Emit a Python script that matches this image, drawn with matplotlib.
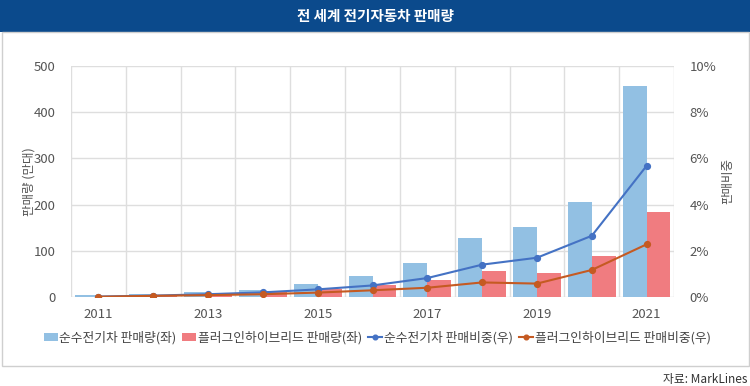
import numpy as np
import matplotlib
matplotlib.use("Agg")
import matplotlib.pyplot as plt
from matplotlib.patches import Rectangle

plt.rcParams['font.family'] = ['Noto Sans CJK KR', 'DejaVu Sans']

# data
years = [2011, 2012, 2013, 2014, 2015, 2016, 2017, 2018, 2019, 2020, 2021]
bev_sales = [4, 6, 11, 16, 29, 45, 74, 128, 151, 205, 457]
phev_sales = [1, 5, 7, 12, 17, 26, 37, 57, 51, 89, 183]
bev_share = [0.02, 0.06, 0.12, 0.2, 0.33, 0.5, 0.82, 1.4, 1.7, 2.65, 5.68]
phev_share = [0.01, 0.05, 0.08, 0.12, 0.19, 0.29, 0.4, 0.63, 0.58, 1.17, 2.28]
tick_years = ["2011", "2013", "2015", "2017", "2019", "2021"]

fig = plt.figure(figsize=(7.5, 3.86), dpi=100)

# header bar and panel border
fig.patches.append(Rectangle((0, 0.917), 1, 0.083, transform=fig.transFigure,
                             facecolor="#0b4a8c", edgecolor="none"))
fig.patches.append(Rectangle((0.002, 0.052), 0.996, 0.865, transform=fig.transFigure,
                             facecolor="none", edgecolor="#cfcfcf", lw=1))
fig.text(0.5, 0.958, "전 세계 전기자동차 판매량", color="white", fontsize=10.5,
         fontweight="bold", ha="center", va="center")
fig.text(0.997, 0.018, "자료: MarkLines", color="#333333", fontsize=8.5,
         ha="right", va="center")

ax = fig.add_axes([0.0947, 0.2306, 0.804, 0.5984])
x = np.arange(len(years))
w = 0.435
ax.bar(x - w / 2, bev_sales, w, color="#92c0e3", label="순수전기차 판매량(좌)", zorder=2)
ax.bar(x + w / 2, phev_sales, w, color="#f07c80", label="플러그인하이브리드 판매량(좌)", zorder=2)
ax.set_ylim(0, 500)
ax.set_xlim(-0.5, len(years) - 0.5)
ax.set_yticks(range(0, 501, 100))
ax.set_xticks(x[::2])
ax.set_xticklabels(tick_years)
ax.set_xticks(np.arange(-0.5, len(years), 1), minor=True)
ax.grid(axis="y", color="#dedede", lw=1, zorder=0)
ax.grid(axis="x", which="minor", color="#dedede", lw=1, zorder=0)
ax.grid(axis="x", which="major", visible=False)
for s in ax.spines.values():
    s.set_visible(False)
ax.tick_params(which="both", length=0, colors="#555555", labelsize=9.5)
ax.tick_params(axis="y", pad=11)
ax.tick_params(axis="x", pad=8)
ax.set_ylabel("판매량 (만대)", color="#555555", fontsize=9, labelpad=-1)

ax2 = ax.twinx()
ax2.plot(x, bev_share, color="#4472c4", marker="o", ms=4.2, lw=1.5,
         label="순수전기차 판매비중(우)", zorder=3)
ax2.plot(x, phev_share, color="#c55a22", marker="o", ms=4.2, lw=1.5,
         label="플러그인하이브리드 판매비중(우)", zorder=3)
ax2.set_ylim(0, 10)
ax2.set_yticks(range(0, 11, 2))
ax2.set_yticklabels([f"{v}%" for v in range(0, 11, 2)])
for s in ax2.spines.values():
    s.set_visible(False)
ax2.tick_params(length=0, colors="#555555", labelsize=9.5, pad=11)
ax2.set_ylabel("판매비중", color="#555555", fontsize=9, rotation=90, labelpad=4)

h1, l1 = ax.get_legend_handles_labels()
h2, l2 = ax2.get_legend_handles_labels()
fig.legend(h1 + h2, l1 + l2, loc="center left", bbox_to_anchor=(0.058, 0.125),
           ncol=4, frameon=False, fontsize=9.2, handlelength=1.1, handletextpad=0.15,
           columnspacing=0.45, labelcolor="#444444", markerscale=0.8,
           borderpad=0, borderaxespad=0)

fig.savefig("out.png", dpi=100)
